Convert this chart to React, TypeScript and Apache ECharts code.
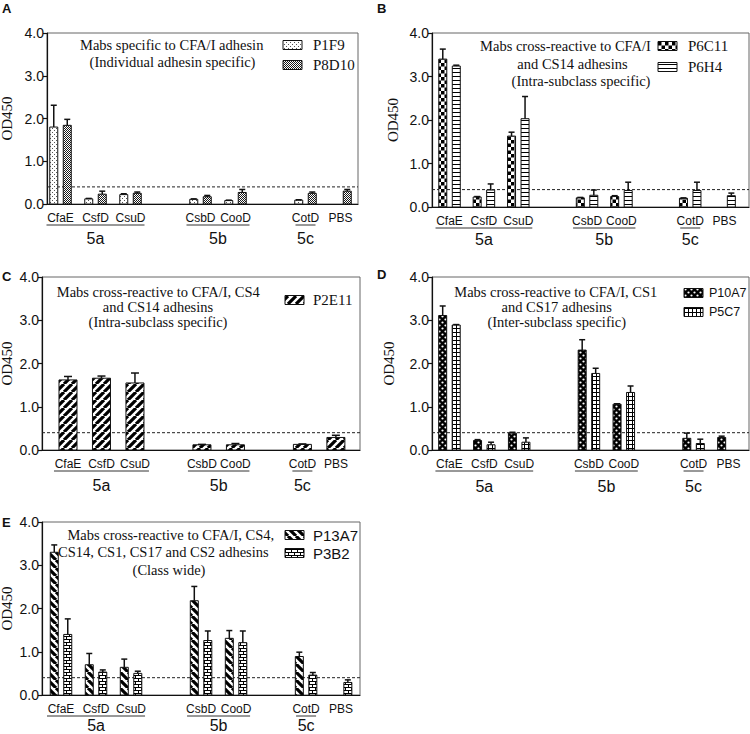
import React, { useEffect, useRef } from 'react';
import * as echarts from 'echarts';

// ---------- data ----------
const categories = ['CfaE', 'CsfD', 'CsuD', '', 'CsbD', 'CooD', '', 'CotD', 'PBS'];
const groupLabels = ['5a', '5b', '5c'];
const groupFrom = [0, 4, 7];
const groupTo = [2, 5, 7];
const thresholdOD = 0.4;
const yTickValues = [0, 1, 2, 3, 4];

// Panel A
const p1f9 = [1.8, 0.12, 0.22, null, 0.11, 0.08, null, 0.09, null];
const p1f9Err = [0.51, 0.01, 0.02, null, 0.01, 0.01, null, 0.01, null];
const p8d10 = [1.84, 0.23, 0.25, null, 0.17, 0.27, null, 0.25, 0.3];
const p8d10Err = [0.14, 0.07, 0.03, null, 0.03, 0.07, null, 0.03, 0.04];
// Panel B
const p6c11 = [3.4, 0.23, 1.63, null, 0.21, 0.24, null, 0.2, null];
const p6c11Err = [0.23, 0.01, 0.09, null, 0.01, 0.02, null, 0.01, null];
const p6h4 = [3.24, 0.39, 2.03, null, 0.27, 0.38, null, 0.38, 0.26];
const p6h4Err = [0.02, 0.14, 0.51, null, 0.12, 0.19, null, 0.19, 0.06];
// Panel C
const p2e11 = [1.62, 1.66, 1.55, null, 0.12, 0.12, null, 0.13, 0.29];
const p2e11Err = [0.08, 0.05, 0.23, null, 0.01, 0.03, null, 0.01, 0.05];
// Panel D
const p10a7 = [3.11, 0.22, 0.39, null, 2.31, 1.06, null, 0.27, 0.29];
const p10a7Err = [0.22, 0.02, 0.02, null, 0.24, 0.01, null, 0.12, 0.03];
const p5c7 = [2.89, 0.12, 0.18, null, 1.77, 1.33, null, 0.15, null];
const p5c7Err = [0.01, 0.06, 0.1, null, 0.12, 0.15, null, 0.1, null];
// Panel E
const p13a7 = [3.3, 0.7, 0.64, null, 2.18, 1.31, null, 0.89, null];
const p13a7Err = [0.17, 0.26, 0.19, null, 0.33, 0.18, null, 0.1, null];
const p3b2 = [1.4, 0.53, 0.5, null, 1.26, 1.21, null, 0.46, 0.29];
const p3b2Err = [0.36, 0.05, 0.05, null, 0.22, 0.27, null, 0.06, 0.06];

const noteA = ['Mabs specific to CFA/I adhesin', '(Individual adhesin specific)'];
const noteB = ['Mabs cross-reactive to CFA/I', 'and CS14 adhesins', '(Intra-subclass specific)'];
const noteC = ['Mabs cross-reactive to CFA/I, CS4', 'and CS14 adhesins', '(Intra-subclass specific)'];
const noteD = ['Mabs cross-reactive to CFA/I, CS1', 'and CS17 adhesins', '(Inter-subclass specific)'];
const noteE = ['Mabs cross-reactive to CFA/I, CS4,', 'CS14, CS1, CS17 and CS2 adhesins', '(Class wide)'];

const SANS = '"Liberation Sans", Arial, sans-serif';
const SERIF = '"Liberation Serif", "Times New Roman", serif';
const INK = '#111';

// ---------- patterns ----------
function makeTile(kind: string): HTMLCanvasElement {
  const c = document.createElement('canvas');
  const g = c.getContext('2d') as CanvasRenderingContext2D;
  const base = (w: number, h: number, bg = '#fff') => {
    c.width = w; c.height = h; g.fillStyle = bg; g.fillRect(0, 0, w, h);
  };
  switch (kind) {
    case 'dots':
      base(4, 4); g.fillStyle = '#555'; g.fillRect(0, 0, 1, 1); g.fillRect(2, 2, 1, 1); break;
    case 'fineCheck':
      base(2, 2); g.fillStyle = '#1a1a1a'; g.fillRect(0, 0, 1, 1); g.fillRect(1, 1, 1, 1); break;
    case 'check':
      base(7, 7); g.fillStyle = '#000'; g.fillRect(0, 0, 3.5, 3.5); g.fillRect(3.5, 3.5, 3.5, 3.5); break;
    case 'hstripe':
      base(4, 4); g.fillStyle = '#000'; g.fillRect(0, 0, 4, 1); break;
    case 'grid':
      base(4, 4); g.fillStyle = '#000'; g.fillRect(0, 0, 4, 1); g.fillRect(0, 0, 1, 4); break;
    case 'brick':
      base(6, 6); g.fillStyle = '#000'; g.fillRect(0, 0, 6, 1); g.fillRect(0, 3, 6, 1);
      g.fillRect(0, 0, 1, 3); g.fillRect(3, 3, 1, 3); break;
    case 'blackDots':
      base(6, 6, '#000'); g.fillStyle = '#fff';
      g.beginPath(); g.arc(1.5, 1.5, 1.1, 0, Math.PI * 2); g.fill();
      g.beginPath(); g.arc(4.5, 4.5, 1.1, 0, Math.PI * 2); g.fill(); break;
    case 'fwd':
    case 'back': {
      base(8, 8); g.strokeStyle = '#000'; g.lineWidth = 3.2; g.beginPath();
      for (const o of [-8, 0, 8]) {
        if (kind === 'fwd') { g.moveTo(o, 8); g.lineTo(o + 8, 0); }
        else { g.moveTo(o, 0); g.lineTo(o + 8, 8); }
      }
      g.stroke(); break;
    }
  }
  return c;
}
const patternCache: Record<string, any> = {};
function pattern(kind: string) {
  if (!patternCache[kind]) patternCache[kind] = { image: makeTile(kind), repeat: 'repeat' };
  return patternCache[kind];
}

// ---------- panel layout ----------
type BarDef = { name: string; vals: (number | null)[]; errs: (number | null)[]; pat: string };
type Panel = {
  letter: string; letterPos: [number, number]; odPos: [number, number];
  grid: { left: number; top: number; width: number; height: number };
  xMin: number; xMax: number; bars: BarDef[]; groupGap: number;
  note: string[]; noteX: number[]; noteY: number[];
  legendX: number; legendTextX: number; legendY: number[]; legendFont: string; legendSize: number;
};

const panels: Panel[] = [
  {
    letter: 'A', letterPos: [2, 8], odPos: [7, 118.5],
    grid: { left: 47, top: 33, width: 311, height: 171 }, xMin: -0.386, xMax: 8.5, groupGap: 34,
    bars: [
      { name: 'P1F9', vals: p1f9, errs: p1f9Err, pat: 'dots' },
      { name: 'P8D10', vals: p8d10, errs: p8d10Err, pat: 'fineCheck' },
    ],
    note: noteA, noteX: [171.7, 172.5], noteY: [45, 62],
    legendX: 283, legendTextX: 313, legendY: [45, 65], legendFont: SERIF, legendSize: 15,
  },
  {
    letter: 'B', letterPos: [377, 8], odPos: [393, 120],
    grid: { left: 432, top: 33, width: 317, height: 174 }, xMin: -0.51, xMax: 8.71, groupGap: 32,
    bars: [
      { name: 'P6C11', vals: p6c11, errs: p6c11Err, pat: 'check' },
      { name: 'P6H4', vals: p6h4, errs: p6h4Err, pat: 'hstripe' },
    ],
    note: noteB, noteX: [565.5, 572.5, 581], noteY: [46, 63.5, 81],
    legendX: 658, legendTextX: 688, legendY: [46, 67], legendFont: SERIF, legendSize: 15,
  },
  {
    letter: 'C', letterPos: [2, 276], odPos: [7, 363.5],
    grid: { left: 42, top: 277, width: 318, height: 173 }, xMin: -0.776, xMax: 8.72, groupGap: 35,
    bars: [{ name: 'P2E11', vals: p2e11, errs: p2e11Err, pat: 'fwd' }],
    note: noteC, noteX: [158.3, 158, 158], noteY: [292, 307, 322],
    legendX: 285, legendTextX: 313, legendY: [300], legendFont: SERIF, legendSize: 15,
  },
  {
    letter: 'D', letterPos: [377, 274], odPos: [389, 363.5],
    grid: { left: 432, top: 277, width: 317, height: 173 }, xMin: -0.5, xMax: 8.59, groupGap: 36,
    bars: [
      { name: 'P10A7', vals: p10a7, errs: p10a7Err, pat: 'blackDots' },
      { name: 'P5C7', vals: p5c7, errs: p5c7Err, pat: 'grid' },
    ],
    note: noteD, noteX: [555.8, 556.7, 556.7], noteY: [292, 307, 322],
    legendX: 684, legendTextX: 709, legendY: [293, 312], legendFont: SANS, legendSize: 12.5,
  },
  {
    letter: 'E', letterPos: [2, 522], odPos: [7, 608.5],
    grid: { left: 42, top: 522, width: 318, height: 173 }, xMin: -0.543, xMax: 8.54, groupGap: 30,
    bars: [
      { name: 'P13A7', vals: p13a7, errs: p13a7Err, pat: 'back' },
      { name: 'P3B2', vals: p3b2, errs: p3b2Err, pat: 'brick' },
    ],
    note: noteE, noteX: [170.8, 163.3, 169], noteY: [535, 552, 570],
    legendX: 285, legendTextX: 313, legendY: [535, 553], legendFont: SANS, legendSize: 15,
  },
];

function buildOption() {
  const grid: any[] = [];
  const xAxis: any[] = [];
  const yAxis: any[] = [];
  const series: any[] = [];
  const graphic: any[] = [];
  const labelIdx = categories.map((c, i) => (c ? i : -1)).filter((i) => i >= 0);

  panels.forEach((p, pi) => {
    grid.push({ ...p.grid, show: true, borderColor: '#666', borderWidth: 1, containLabel: false });
    xAxis.push({
      type: 'value', gridIndex: pi, min: p.xMin, max: p.xMax,
      axisLine: { show: true, onZero: false, lineStyle: { color: INK, width: 1.2 } },
      axisTick: { show: false }, splitLine: { show: false },
      axisLabel: {
        customValues: labelIdx, margin: 8, fontSize: 12, fontFamily: SANS, color: INK,
        formatter: (v: number) => categories[Math.round(v)] || '',
      },
    });
    yAxis.push({
      type: 'value', gridIndex: pi, min: yTickValues[0], max: yTickValues[yTickValues.length - 1], interval: 1,
      axisLine: { show: true, onZero: false, lineStyle: { color: INK, width: 1.2 } },
      axisTick: { show: true, length: 4, lineStyle: { color: INK, width: 1.2 } },
      splitLine: { show: false },
      axisLabel: { fontSize: 14, fontFamily: SANS, color: INK, margin: 3, formatter: (v: number) => v.toFixed(1) },
    });

    // threshold
    series.push({
      type: 'line', xAxisIndex: pi, yAxisIndex: pi, silent: true, z: 1,
      data: [[p.xMin, thresholdOD], [p.xMax, thresholdOD]], symbol: 'none',
      lineStyle: { color: '#222', width: 1, type: [3, 2] },
    });

    const pair = p.bars.length > 1;
    const barW = pair ? 8 : 18;
    const cap = pair ? 6 : 8;
    p.bars.forEach((b, bi) => {
      const offset = pair ? (bi === 0 ? -6.75 : 6.75) : 0;
      const fill = pattern(b.pat);
      const data = b.vals
        .map((v, i) => (v == null ? null : [i, v, b.errs[i] ?? 0]))
        .filter((d) => d !== null);
      series.push({
        type: 'custom', name: b.name, xAxisIndex: pi, yAxisIndex: pi, clip: false, silent: true, z: 3,
        encode: { x: 0, y: 1 }, data,
        renderItem: (_params: any, api: any) => {
          const x = api.value(0); const v = api.value(1); const e = api.value(2);
          const p0 = api.coord([x, 0]); const p1 = api.coord([x, v]);
          const cx = p0[0] + offset;
          const children: any[] = [{
            type: 'rect',
            shape: { x: cx - barW / 2, y: p1[1], width: barW, height: p0[1] - p1[1] },
            style: { fill, stroke: INK, lineWidth: 1 },
          }];
          if (e > 0.005) {
            const pe = api.coord([x, v + e]);
            children.push({ type: 'line', shape: { x1: cx, y1: p1[1], x2: cx, y2: pe[1] }, style: { stroke: INK, lineWidth: 1.5 } });
            children.push({ type: 'line', shape: { x1: cx - cap / 2, y1: pe[1], x2: cx + cap / 2, y2: pe[1] }, style: { stroke: INK, lineWidth: 1.5 } });
          }
          return { type: 'group', children };
        },
      });
    });

    // group underline and label
    const gap = p.groupGap;
    series.push({
      type: 'custom', xAxisIndex: pi, yAxisIndex: pi, clip: false, silent: true,
      encode: { x: 0, y: 1 },
      data: groupLabels.map((_, gi) => [groupFrom[gi], 0, groupTo[gi], gi]),
      renderItem: (_params: any, api: any) => {
        const a = api.coord([api.value(0), 0]);
        const b = api.coord([api.value(2), 0]);
        const gi = api.value(3);
        const ext = api.value(0) === api.value(2) ? 10 : 14;
        const y = a[1];
        return {
          type: 'group', children: [
            { type: 'line', shape: { x1: a[0] - ext, y1: y + 21, x2: b[0] + ext, y2: y + 21 }, style: { stroke: '#333', lineWidth: 1 } },
            {
              type: 'text', x: (a[0] + b[0]) / 2, y: y + gap,
              style: { text: groupLabels[gi], fontSize: 16, fontFamily: SANS, fill: INK, align: 'center', verticalAlign: 'middle', textAlign: 'center', textVerticalAlign: 'middle' },
            },
          ],
        };
      },
    });

    // graphics: letter, y name, note, legend
    graphic.push({
      type: 'text', x: p.letterPos[0], y: p.letterPos[1],
      style: { text: p.letter, fontSize: 13, fontWeight: 'bold', fontFamily: SANS, fill: INK, align: 'left', verticalAlign: 'middle', textAlign: 'left', textVerticalAlign: 'middle' },
    });
    graphic.push({
      type: 'text', x: p.odPos[0], y: p.odPos[1], rotation: Math.PI / 2,
      style: { text: 'OD450', fontSize: 15, fontFamily: SERIF, fill: INK, align: 'center', verticalAlign: 'middle', textAlign: 'center', textVerticalAlign: 'middle' },
    });
    p.note.forEach((line, li) => {
      graphic.push({
        type: 'text', x: p.noteX[li], y: p.noteY[li],
        style: { text: line, fontSize: 14.5, fontFamily: SERIF, fill: INK, align: 'center', verticalAlign: 'middle', textAlign: 'center', textVerticalAlign: 'middle' },
      });
    });
    p.bars.forEach((b, bi) => {
      const ly = p.legendY[bi];
      graphic.push({
        type: 'rect', shape: { x: p.legendX, y: ly - 4.5, width: 19, height: 9 },
        style: { fill: pattern(b.pat), stroke: INK, lineWidth: 1 },
      });
      graphic.push({
        type: 'text', x: p.legendTextX, y: ly,
        style: { text: b.name, fontSize: p.legendSize, fontFamily: p.legendFont, fill: INK, align: 'left', verticalAlign: 'middle', textAlign: 'left', textVerticalAlign: 'middle' },
      });
    });
  });

  return { animation: false, backgroundColor: '#fff', grid, xAxis, yAxis, series, graphic };
}

export default function App() {
  const ref = useRef<HTMLDivElement>(null);
  useEffect(() => {
    if (!ref.current) return;
    const chart = echarts.init(ref.current, undefined, { renderer: 'svg' });
    chart.setOption(buildOption() as any);
    return () => chart.dispose();
  }, []);
  return (
    <div
      ref={ref}
      style={{ position: 'fixed', left: 0, top: 0, width: 750, height: 734, background: '#fff' }}
    />
  );
}
